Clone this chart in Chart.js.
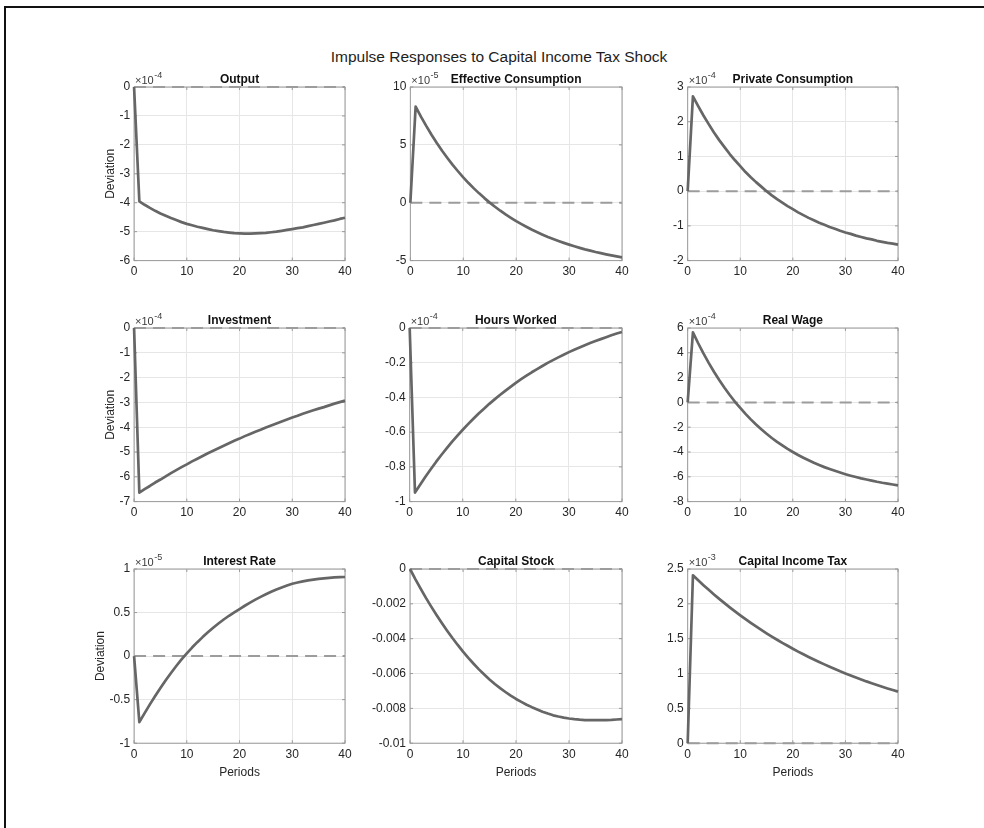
<!DOCTYPE html>
<html>
<head>
<meta charset="utf-8">
<title>Impulse Responses to Capital Income Tax Shock</title>
<script src="https://cdn.jsdelivr.net/npm/chart.js@4.4.1/dist/chart.umd.min.js"></script>
<style>
  html, body { margin: 0; padding: 0; background: #fff; }
  #page { position: relative; width: 984px; height: 828px; overflow: hidden; background: #fff; }
  #frame { position: absolute; left: 4px; top: 6px; right: -10px; bottom: -10px;
           border-left: 2px solid #111; border-top: 2px solid #111; }
  #suptitle { position: absolute; left: 0; width: 998px; top: 48px; line-height: 17px;
              text-align: center; font: 15.5px "Liberation Sans", Arial, Helvetica, sans-serif; color: #1e1e1e; }
  .panel { position: absolute; }
  .panel canvas { display: block; }
</style>
</head>
<body>
<div id="page">
  <div id="frame"></div>
  <div id="suptitle">Impulse Responses to Capital Income Tax Shock</div>
</div>
<script>
// Horizon (periods after the shock)
const periods = [0,1,2,3,4,5,6,7,8,9,10,11,12,13,14,15,16,17,18,19,20,
                 21,22,23,24,25,26,27,28,29,30,31,32,33,34,35,36,37,38,39,40];

// Responses, in units of 10^exponent (see panelExponents)
const outputDev = [0,-3.95,-4.07,-4.18,-4.28,-4.37,-4.45,-4.53,-4.60,-4.67,-4.73,-4.78,-4.83,-4.87,-4.91,-4.95,-4.98,-5.01,-5.03,-5.05,-5.06,
                   -5.07,-5.07,-5.06,-5.05,-5.04,-5.02,-5.00,-4.97,-4.94,-4.91,-4.88,-4.85,-4.81,-4.77,-4.73,-4.69,-4.65,-4.61,-4.56,-4.52];
const effConsDev = [0,8.30,7.44,6.64,5.88,5.16,4.49,3.87,3.27,2.72,2.19,1.70,1.24,0.81,0.40,0.01,-0.35,-0.69,-1.01,-1.30,-1.59,
                    -1.85,-2.10,-2.34,-2.55,-2.76,-2.96,-3.14,-3.31,-3.47,-3.62,-3.76,-3.90,-4.03,-4.14,-4.26,-4.36,-4.46,-4.55,-4.64,-4.72];
const privConsDev = [0,2.73,2.45,2.18,1.93,1.69,1.47,1.27,1.07,0.89,0.72,0.55,0.40,0.26,0.13,0.00,-0.12,-0.23,-0.33,-0.43,-0.52,
                     -0.61,-0.69,-0.77,-0.84,-0.91,-0.97,-1.03,-1.08,-1.14,-1.19,-1.23,-1.28,-1.32,-1.36,-1.39,-1.43,-1.46,-1.49,-1.51,-1.54];
const investDev = [0,-6.64,-6.50,-6.37,-6.23,-6.11,-5.98,-5.85,-5.73,-5.61,-5.50,-5.38,-5.27,-5.16,-5.05,-4.95,-4.85,-4.75,-4.65,-4.55,-4.46,
                   -4.36,-4.27,-4.18,-4.10,-4.01,-3.93,-3.85,-3.77,-3.69,-3.61,-3.54,-3.46,-3.39,-3.32,-3.25,-3.19,-3.12,-3.05,-2.99,-2.93];
const hoursDev = [0,-0.948,-0.901,-0.855,-0.812,-0.770,-0.730,-0.692,-0.655,-0.620,-0.586,-0.554,-0.523,-0.493,-0.465,-0.437,-0.411,-0.386,-0.362,-0.339,-0.316,
                  -0.295,-0.275,-0.255,-0.237,-0.219,-0.201,-0.185,-0.169,-0.154,-0.139,-0.125,-0.112,-0.099,-0.087,-0.075,-0.064,-0.053,-0.042,-0.032,-0.023];
const wageDev = [0,5.65,4.77,3.95,3.19,2.47,1.80,1.18,0.60,0.05,-0.45,-0.93,-1.37,-1.78,-2.17,-2.53,-2.87,-3.18,-3.47,-3.75,-4.00,
                 -4.24,-4.46,-4.67,-4.87,-5.05,-5.22,-5.37,-5.52,-5.66,-5.79,-5.91,-6.02,-6.13,-6.22,-6.31,-6.40,-6.48,-6.55,-6.62,-6.69];
const rateDev = [0,-0.758,-0.654,-0.554,-0.458,-0.366,-0.278,-0.194,-0.114,-0.038,0.032,0.098,0.160,0.218,0.273,0.325,0.374,0.420,0.463,0.503,0.540,
                 0.578,0.614,0.648,0.680,0.710,0.738,0.764,0.788,0.810,0.830,0.845,0.858,0.869,0.878,0.886,0.893,0.899,0.903,0.906,0.908];
const capitalDev = [0,-0.00058,-0.00113,-0.00166,-0.00216,-0.00264,-0.00310,-0.00354,-0.00396,-0.00436,-0.00474,-0.00510,-0.00544,-0.00576,-0.00606,-0.00634,-0.00660,-0.00684,-0.00706,-0.00727,-0.00746,
                    -0.00763,-0.00779,-0.00793,-0.00806,-0.00819,-0.00830,-0.00840,-0.00847,-0.00853,-0.00858,-0.00862,-0.00865,-0.00867,-0.00868,-0.00868,-0.00868,-0.00867,-0.00866,-0.00864,-0.00862];
const taxDev = [0,2.410,2.338,2.268,2.201,2.135,2.071,2.010,1.950,1.892,1.835,1.780,1.727,1.676,1.626,1.577,1.530,1.485,1.440,1.398,1.356,
                1.315,1.276,1.238,1.201,1.165,1.131,1.097,1.064,1.032,1.002,0.972,0.943,0.915,0.887,0.861,0.835,0.810,0.786,0.763,0.740];

const panelTitles = ['Output', 'Effective Consumption', 'Private Consumption',
                     'Investment', 'Hours Worked', 'Real Wage',
                     'Interest Rate', 'Capital Stock', 'Capital Income Tax'];
const panelSeries = [outputDev, effConsDev, privConsDev, investDev, hoursDev, wageDev, rateDev, capitalDev, taxDev];
const panelExponents = [-4, -5, -4, -4, -4, -4, -5, null, -3];

// Y-axis limits and tick spacing per panel
const yMin  = [-6, -5, -2, -7, -1, -8, -1, -0.01, 0];
const yMax  = [0, 10, 3, 0, 0, 6, 1, 0, 2.5];
const yStep = [1, 5, 1, 1, 0.2, 2, 0.5, 0.002, 0.5];
const xTickStep = 10;
const yAxisLabel = 'Deviation';
const xAxisLabel = 'Periods';

// ---- layout & style ----
const FONT = '"Liberation Sans", Arial, Helvetica, sans-serif';
const colLeft = [134, 410, 688];
const colWidth = [211, 212, 210];
const rowTop = [87, 328, 569];
const plotHeight = 174;
const yTitlePad = [-2, -2, -2];
const TEXT = '#262626';
const GRID = '#e6e6e6';
const BOX = '#9a9a9a';
const CURVE = '#666666';
const ZERO = '#9c9c9c';

// Box, inward ticks, panel title and the ×10^n multiplier
const matlabAxes = {
  id: 'matlabAxes',
  beforeDatasetsDraw(chart) {
    const { ctx, chartArea: a, scales: { x, y } } = chart;
    ctx.save();
    ctx.strokeStyle = BOX;
    ctx.lineWidth = 1;
    ctx.strokeRect(a.left, a.top, a.right - a.left, a.bottom - a.top);
    const tl = 3;
    ctx.beginPath();
    y.ticks.forEach(t => {
      const py = y.getPixelForValue(t.value);
      ctx.moveTo(a.left, py); ctx.lineTo(a.left + tl, py);
      ctx.moveTo(a.right, py); ctx.lineTo(a.right - tl, py);
    });
    x.ticks.forEach(t => {
      const px = x.getPixelForValue(t.value);
      ctx.moveTo(px, a.bottom); ctx.lineTo(px, a.bottom - tl);
      ctx.moveTo(px, a.top); ctx.lineTo(px, a.top + tl);
    });
    ctx.stroke();
    ctx.restore();
  },
  afterDraw(chart, args, opts) {
    const { ctx, chartArea: a } = chart;
    ctx.save();
    ctx.fillStyle = '#111';
    ctx.font = 'bold 12px ' + FONT;
    ctx.textAlign = 'center';
    ctx.textBaseline = 'alphabetic';
    ctx.fillText(opts.title, (a.left + a.right) / 2, a.top - 4);
    if (opts.exponent !== null && opts.exponent !== undefined) {
      ctx.fillStyle = '#3a3a3a';
      ctx.textAlign = 'left';
      ctx.font = '11px ' + FONT;
      const base = '\u00d710';
      ctx.fillText(base, a.left + 1, a.top - 3.5);
      const w = ctx.measureText(base).width;
      ctx.font = '9px ' + FONT;
      ctx.fillText(String(opts.exponent), a.left + 1.5 + w, a.top - 9);
    }
    ctx.restore();
  }
};

function fmt(v) {
  const r = Math.round(v * 1e6) / 1e6;
  return r === 0 ? '0' : String(r);
}

function panelConfig(i) {
  const row = Math.floor(i / 3), col = i % 3;
  const series = panelSeries[i];
  const pts = periods.map((p, k) => ({ x: p, y: series[k] }));
  const zeroPts = [{ x: periods[0], y: 0 }, { x: periods[periods.length - 1], y: 0 }];
  return {
    type: 'line',
    data: {
      datasets: [
        { data: pts, borderColor: CURVE, borderWidth: 2.7, pointRadius: 0, tension: 0,
          fill: false, order: 0, clip: 6, borderJoinStyle: 'round' },
        { data: zeroPts, borderColor: ZERO, borderWidth: 2, borderDash: [12, 7], pointRadius: 0,
          fill: false, order: 1, clip: 6 }
      ]
    },
    options: {
      responsive: false,
      maintainAspectRatio: false,
      animation: false,
      devicePixelRatio: 1,
      events: [],
      layout: { padding: { top: 24, right: 12, bottom: 2, left: 2 } },
      plugins: {
        legend: { display: false },
        tooltip: { enabled: false },
        title: { display: false },
        matlabAxes: { title: panelTitles[i], exponent: panelExponents[i] }
      },
      scales: {
        x: {
          type: 'linear', min: 0, max: 40,
          border: { display: false },
          grid: { color: GRID, lineWidth: 1, drawTicks: false },
          ticks: { stepSize: xTickStep, color: TEXT, font: { family: FONT, size: 12 }, padding: 4,
                   maxRotation: 0, autoSkip: false, callback: v => fmt(v) },
          title: { display: row === 2, text: xAxisLabel, color: TEXT,
                   font: { family: FONT, size: 12 }, padding: { top: 0, bottom: 2 } }
        },
        y: {
          type: 'linear', min: yMin[i], max: yMax[i],
          border: { display: false },
          grid: { color: GRID, lineWidth: 1, drawTicks: false },
          ticks: { stepSize: yStep[i], color: TEXT, font: { family: FONT, size: 12 }, padding: 4,
                   autoSkip: false, callback: v => fmt(v) },
          title: { display: col === 0, text: yAxisLabel, color: TEXT,
                   font: { family: FONT, size: 12 }, padding: { top: 2, bottom: yTitlePad[row] } }
        }
      }
    },
    plugins: [matlabAxes]
  };
}

const page = document.getElementById('page');

function makePanel(i) {
  const row = Math.floor(i / 3), col = i % 3;
  const box = { x: colLeft[col], y: rowTop[row], w: colWidth[col], h: plotHeight };
  const holder = document.createElement('div');
  holder.className = 'panel';
  const canvas = document.createElement('canvas');
  holder.appendChild(canvas);
  page.appendChild(holder);

  // first pass: measure the room the axes take, then size the canvas so the plot box fits exactly
  let W = box.w + 90, H = box.h + 70;
  canvas.width = W; canvas.height = H;
  canvas.style.width = W + 'px'; canvas.style.height = H + 'px';
  let chart = new Chart(canvas, panelConfig(i));
  let a = chart.chartArea;
  W = Math.round(W - (a.right - a.left) + box.w);
  H = Math.round(H - (a.bottom - a.top) + box.h);
  chart.destroy();

  canvas.width = W; canvas.height = H;
  canvas.style.width = W + 'px'; canvas.style.height = H + 'px';
  chart = new Chart(canvas, panelConfig(i));
  a = chart.chartArea;
  holder.style.left = Math.round(box.x - a.left) + 'px';
  holder.style.top = Math.round(box.y - a.top) + 'px';
}

for (let i = 0; i < 9; i++) makePanel(i);
</script>
</body>
</html>
